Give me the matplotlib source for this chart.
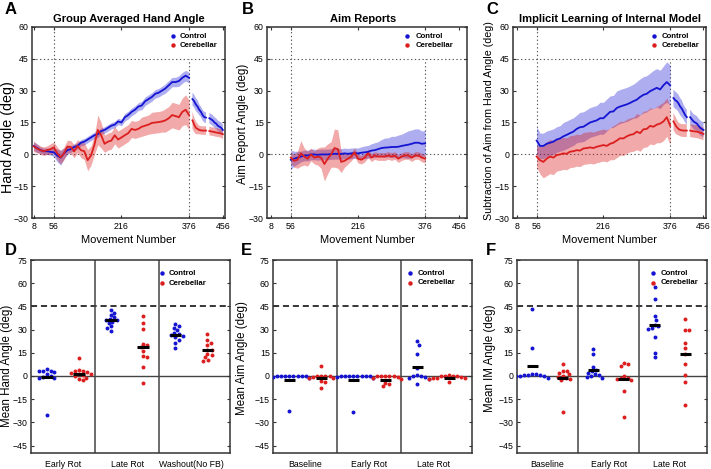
import numpy as np
import matplotlib
matplotlib.use("Agg")
import matplotlib.pyplot as plt

plt.rcParams['font.family'] = ['Liberation Sans', 'DejaVu Sans']

nan = np.nan
# ---------------- top row data ----------------
move_A = np.arange(8, 377, 8)        # baseline + rotation (panel A)
move_BC = np.arange(56, 377, 8)      # rotation (panels B, C)
move_wash = np.arange(384, 457, 4)   # washout (gap = nan)
top_xticks = [8, 56, 216, 376, 456]

hand_ctrl = [4.0, 3.0, 2.0, 1.5, 1.5, 1.2, 1.0, -0.5,
             -1.5, 0.5, 2.0, 2.5, 3.5, 4.0, 5.5, 6.0,
             7.0, 8.0, 9.0, 9.5, 11.0, 11.5, 12.5, 13.5,
             14.0, 15.5, 15.0, 17.5, 18.5, 20.0, 21.0, 22.5,
             23.0, 25.0, 26.0, 27.0, 28.5, 29.0, 30.0, 31.0,
             32.5, 34.0, 34.0, 34.5, 36.0, 37.0, 36.0]
hand_ctrl_sem = [2.0, 2.0, 1.5, 1.5, 1.5, 1.5, 2.0, 3.0,
                 3.5, 2.5, 2.0, 1.5, 1.5, 1.5, 1.5, 1.5,
                 1.5, 1.5, 1.5, 1.5, 1.5, 1.5, 1.5, 1.5,
                 1.5, 1.5, 1.5, 1.8, 1.8, 1.8, 1.8, 1.8,
                 2.0, 2.0, 2.0, 2.0, 2.0, 2.0, 2.0, 2.2,
                 2.2, 2.2, 2.2, 2.5, 2.5, 2.5, 2.5]
hand_cereb = [3.8, 2.8, 2.0, 1.5, 2.0, 2.5, 3.3, 0.5,
              -1.4, 0.5, 3.7, 3.5, 1.4, 4.0, 2.0, 1.5,
              -2.7, -0.5, 4.5, 11.5, 9.0, 5.0, 6.0, 6.5,
              9.0, 7.0, 8.0, 9.0, 10.0, 12.0, 11.5, 12.0,
              13.0, 13.5, 14.0, 14.8, 15.0, 15.2, 15.5, 16.0,
              17.0, 18.5, 18.0, 17.5, 20.0, 21.0, 18.5]
hand_cereb_sem = [2.5, 2.0, 2.0, 2.0, 2.0, 2.5, 2.5, 3.0,
                  3.0, 3.0, 3.0, 3.0, 3.0, 3.0, 3.5, 4.0,
                  5.0, 4.5, 4.5, 7.0, 6.0, 4.0, 4.0, 4.0,
                  4.0, 4.0, 4.0, 4.0, 4.0, 4.0, 4.0, 4.0,
                  4.5, 4.5, 4.5, 5.0, 5.0, 5.0, 5.0, 5.5,
                  5.5, 6.0, 6.0, 6.0, 6.5, 7.0, 7.0]
hand_ctrl_wash = [26, 25, 23.5, 22.5, 21, 20, 18.5, 17.5, 17.3, nan,
                  17, 16.5, 16, 15, 14.5, 13.5, 13, 12.5, 11.5]
hand_ctrl_wash_sem = [3, 3, 3, 3, 2.5, 2.5, 2.5, 2.5, 2.5, nan,
                      2.5, 2.5, 2.5, 2.5, 2.5, 2.5, 2.5, 2.5, 2.5]
hand_cereb_wash = [16, 14, 12.5, 12, 11.5, 11.3, 11.2, 11.2, 11.2, nan,
                   11, 10.8, 10.7, 10.5, 10.3, 10.2, 10, 9.8, 9.5]
hand_cereb_wash_sem = [4, 3.5, 3, 2.5, 2, 2, 2, 2, 2, nan,
                       2, 2, 2, 2, 2, 2, 2, 2, 2.5]

aim_ctrl = [-2.5, -2.0, -1.5, -1.0, -0.5, -0.5, 0.0, 0.0,
            -0.2, 0.0, 0.0, 0.0, 0.2, 0.3, 0.3, 0.2,
            0.5, 0.3, 0.5, 0.6, 0.5, 0.8, 1.0, 1.2,
            1.8, 2.0, 2.5, 3.0, 3.2, 3.3, 3.5, 3.5,
            3.6, 4.0, 4.3, 4.6, 5.0, 5.5, 5.5, 5.0,
            5.2]
aim_ctrl_sem = [4.5, 3.5, 3.0, 2.5, 2.5, 2.5, 2.5, 2.5,
                2.5, 2.5, 2.5, 2.5, 2.5, 2.5, 2.5, 2.5,
                2.5, 2.5, 2.5, 2.5, 2.5, 2.8, 3.0, 3.0,
                3.2, 3.5, 3.5, 4.0, 4.5, 4.5, 5.0, 5.0,
                5.5, 5.5, 6.0, 6.5, 6.5, 6.5, 6.5, 6.0,
                6.0]
aim_cereb = [-1.5, -3.0, -2.5, 0.5, -1.0, -2.0, 0.0, -1.5,
             -1.0, -1.5, -4.5, -2.0, 0.0, 3.0, 2.5, -3.5,
             -3.0, -2.0, -1.0, 1.0, -2.0, -2.5, -1.5, 0.5,
             -1.5, -0.5, -1.0, -1.0, -1.0, -0.5, -1.0, -0.5,
             -2.0, -1.0, -0.5, -0.5, -1.5, -0.5, -0.5, -1.5,
             -2.0]
aim_cereb_sem = [2.5, 3.0, 4.0, 6.0, 4.0, 3.5, 3.0, 3.0,
                 4.0, 5.0, 8.0, 7.0, 6.0, 9.0, 9.0, 5.0,
                 3.0, 2.5, 2.0, 2.0, 2.0, 2.0, 2.0, 2.0,
                 1.8, 1.8, 1.8, 1.8, 1.8, 1.8, 1.8, 1.8,
                 1.8, 1.8, 1.8, 1.8, 1.8, 1.8, 1.8, 2.0,
                 2.0]

im_ctrl = [6.5, 4.0, 4.0, 5.0, 5.5, 6.0, 7.0, 7.5,
           8.5, 9.2, 10.0, 10.7, 12.0, 12.8, 13.0, 14.0,
           15.0, 15.5, 16.0, 17.0, 17.0, 18.5, 20.0, 20.2,
           21.8, 22.5, 23.0, 23.5, 24.2, 25.0, 25.7, 27.0,
           28.0, 28.5, 29.7, 30.5, 31.3, 30.5, 32.5, 34.0,
           32.5]
im_ctrl_sem = [6.5, 6.0, 6.0, 6.0, 6.0, 6.0, 6.0, 6.0,
               6.5, 6.5, 6.5, 6.5, 6.5, 7.0, 7.0, 7.0,
               7.0, 7.0, 7.0, 7.5, 7.5, 7.5, 7.5, 7.5,
               8.0, 8.0, 8.0, 8.0, 8.0, 8.0, 8.5, 8.5,
               8.5, 8.5, 8.5, 9.0, 9.0, 9.0, 9.0, 9.5,
               9.5]
im_cereb = [-1.0, -2.7, -3.5, -2.0, -1.0, -1.5, -0.3, 0.0,
            0.5, 0.3, 1.3, 1.5, 2.0, 1.8, 2.8, 3.0,
            3.3, 3.0, 3.6, 4.0, 4.4, 4.0, 5.0, 5.5,
            6.5, 7.6, 7.5, 8.5, 9.2, 9.5, 10.7, 10.0,
            11.8, 12.0, 13.4, 13.0, 14.0, 14.5, 15.5, 17.5,
            13.5]
im_cereb_sem = [5.0, 6.5, 7.5, 8.0, 8.0, 8.0, 7.5, 7.5,
                7.5, 7.5, 7.5, 7.5, 7.5, 7.5, 7.5, 7.5,
                7.5, 7.5, 7.5, 7.5, 7.5, 7.5, 7.5, 8.0,
                8.0, 8.0, 8.0, 8.0, 8.0, 8.0, 8.5, 8.5,
                8.5, 8.5, 8.5, 8.5, 8.5, 9.0, 9.0, 9.0,
                9.0]
im_ctrl_wash = [26.5, 25.5, 25, 24, 22.5, 21.5, 20, 18.5, 17.5, nan,
                17.5, 16.5, 15.5, 15, 14.5, 13.5, 12.5, 12, 11.5]
im_ctrl_wash_sem = [4, 4, 4, 4, 4, 4, 3.5, 3.5, 3.5, nan,
                    3.5, 3.5, 3.5, 3.5, 3.5, 3.5, 3.5, 3.5, 3.5]
im_cereb_wash = [15.5, 14, 12.8, 12, 11.5, 11.3, 11.2, 11.2, 11.2, nan,
                 11.2, 11, 10.9, 10.8, 10.7, 10.5, 10.2, 10, 9.6]
im_cereb_wash_sem = [4, 4, 3.5, 3, 3, 3, 3, 3, 3, nan,
                     3, 3, 3, 3, 3, 3, 3, 3, 3]

# ---------------- bottom row data ----------------
hand_groups = ['Early Rot', 'Late Rot', 'Washout(No FB)']
hand_ctrl_pts = [[4.5, 3.5, 3, 3, 2.5, 1, 0, -0.5, -1, -1.5, -25],
                 [42.5, 41, 39.5, 38, 37, 36, 36, 35, 34, 32, 31, 29],
                 [33.5, 32.5, 31, 29.5, 28, 27, 26.5, 26, 25, 23.5, 21.5, 18]]
hand_cereb_pts = [[11.5, 4, 3.5, 3, 2.5, 2, 1.5, 1, 0.5, 0, -1, -2, -2.5],
                  [38.5, 34, 30.5, 20.5, 20, 18.5, 16, 13, 12, 5.5, -4.5],
                  [27, 23, 21.5, 20, 17, 16.5, 14, 13.5, 12, 10.5, 9.5]]
hand_ctrl_bar = [-0.8, 36, 26.5]
hand_cereb_bar = [1.5, 18.5, 17]

aim_groups = ['Baseline', 'Early Rot', 'Late Rot']
aim_ctrl_pts = [[0, 0, 0, 0, 0, 0, 0, 0, -0.5, -1.5, -22.5],
                [0, 0, 0, 0, 0, 0, 0, 0, -0.5, -1, -23.5],
                [22.5, 20, 14.5, 5, 0.5, 0, 0, -0.5, -1, -2, -5.5]]
aim_cereb_pts = [[6.5, 0, 0, 0, 0, -0.5, -1, -1.5, -3.5, -4, -8],
                 [0, 0, 0, 0, 0, -0.5, -1, -2, -4.5, -5.5, -6.5],
                 [0.5, 0, 0, 0, 0, -0.5, -1, -1, -1.5, -2, -4]]
aim_ctrl_bar = [-2.5, -2.5, 5.5]
aim_cereb_bar = [-1.5, -2.5, -1]

im_groups = ['Baseline', 'Early Rot', 'Late Rot']
im_ctrl_pts = [[43.5, 18, 1.5, 1, 0.5, 0.5, 0.5, 0, 0, 0, -1],
               [17.5, 14.5, 6, 4, 3, 2, 1, 0.5, 0, -0.5, -1],
               [57.5, 50, 39, 36.5, 33, 32, 31, 30.5, 25.5, 15, 12]]
im_cereb_pts = [[8, 3.5, 3, 2, 1, 0, -0.5, -1, -2, -2.5, -23],
                [8.5, 7.5, 6.5, 0, -1, -1.5, -2, -2.5, -9.5, -26.5],
                [37, 29.5, 29.5, 21.5, 18, 14, 7.5, 0.5, -4, -18.5]]
im_ctrl_bar = [6.5, 4, 33]
im_cereb_bar = [-1, -2, 14]

# ---------------- styling ----------------
BLUE = '#1414d2'
RED = '#dc1e1e'
SPINE = '#333333'
W, H = 711, 469
fig = plt.figure(figsize=(W / 100, H / 100), dpi=100)


def ax_at(l, t, r, b):
    return fig.add_axes([l / W, 1 - b / H, (r - l) / W, (b - t) / H])


def style(ax):
    for s in ax.spines.values():
        s.set_color(SPINE)
        s.set_linewidth(1.1)
    ax.tick_params(direction='in', length=2.5, width=0.8, top=True, right=True,
                   labelsize=6.3, pad=2.5, color=SPINE)


def legend(ax, fx, fy1, fy2, dx=7):
    for fy, c, lab in [(fy1, BLUE, 'Control'), (fy2, RED, 'Cerebellar')]:
        ax.plot([fx], [fy], 'o', color=c, ms=3.2, mew=0, transform=ax.transAxes,
                clip_on=False, zorder=6)
        ax.annotate(lab, (fx, fy), xycoords='axes fraction', xytext=(dx, 0),
                    textcoords='offset pixels', fontsize=5.6, fontweight='bold',
                    va='center', ha='left')


def series(ax, x, m, s, color, alpha):
    m = np.asarray(m, float)
    s = np.asarray(s, float)
    ax.fill_between(x, m - s, m + s, color=color, alpha=alpha, lw=0, zorder=2)


def line(ax, x, m, color):
    ax.plot(x, np.asarray(m, float), color=color, lw=1.3, zorder=3)


def top_panel(box, xlim, parts):
    ax = ax_at(*box)
    ax.set_xlim(*xlim)
    ax.set_ylim(-30, 60)
    ax.set_xticks(top_xticks)
    ax.set_yticks(range(-30, 61, 15))
    style(ax)
    kw = dict(color='#555555', lw=0.8, ls=(0, (1.2, 2.2)), zorder=1)
    ax.axhline(0, **kw)
    ax.axhline(45, **kw)
    ax.axvline(56, **kw)
    ax.plot([376, 376], [-30, 45], **kw)
    for x, m, s, c, a in parts:
        series(ax, x, m, s, c, a)
    for x, m, s, c, a in parts:
        line(ax, x, m, c)
    return ax


axA = top_panel((32.3, 26.7, 225, 218.3), (5, 461), [
    (move_A, hand_ctrl, hand_ctrl_sem, BLUE, 0.35),
    (move_wash, hand_ctrl_wash, hand_ctrl_wash_sem, BLUE, 0.35),
    (move_A, hand_cereb, hand_cereb_sem, RED, 0.38),
    (move_wash, hand_cereb_wash, hand_cereb_wash_sem, RED, 0.38)])
axB = top_panel((267.3, 26.7, 466.7, 218.3), (0, 475), [
    (move_BC, aim_ctrl, aim_ctrl_sem, BLUE, 0.35),
    (move_BC, aim_cereb, aim_cereb_sem, RED, 0.38)])
axC = top_panel((513.3, 26.7, 706, 218.3), (0, 462), [
    (move_BC, im_ctrl, im_ctrl_sem, BLUE, 0.35),
    (move_wash, im_ctrl_wash, im_ctrl_wash_sem, BLUE, 0.35),
    (move_BC, im_cereb, im_cereb_sem, RED, 0.38),
    (move_wash, im_cereb_wash, im_cereb_wash_sem, RED, 0.38)])

legend(axA, 0.729, 0.951, 0.903)
legend(axB, 0.699, 0.951, 0.903, dx=9)
legend(axC, 0.732, 0.951, 0.903)


def swarm_x(ax, xc, vals, d_px=4.1):
    vals = np.asarray(vals, float)
    t = ax.transData
    p0 = t.transform((0, 0))
    sx = t.transform((1, 0))[0] - p0[0]
    sy = t.transform((0, 1))[1] - p0[1]
    ypx = vals * sy
    xs = np.zeros(len(vals))
    placed = []
    for i in np.argsort(-vals):
        y = ypx[i]
        cands = [0.0]
        for (px, py) in placed:
            dy = abs(py - y)
            if dy < d_px:
                dx = np.sqrt(d_px ** 2 - dy ** 2)
                cands += [px + dx, px - dx]
        cands = sorted(cands, key=lambda c: (abs(c), -c))
        for c in cands:
            ok = all((c - px) ** 2 + (y - py) ** 2 >= d_px ** 2 - 1e-6 for px, py in placed)
            if ok:
                break
        placed.append((c, y))
        xs[i] = xc + c / sx
    return xs


def bottom_panel(box, groups, ctrl_pts, cereb_pts, ctrl_bar, cereb_bar):
    ax = ax_at(*box)
    ax.set_xlim(0.5, 3.6)
    ax.set_ylim(-50, 75)
    ax.set_yticks(range(-45, 76, 15))
    ax.set_xticks([1, 2, 3])
    ax.set_xticklabels(groups)
    style(ax)
    ax.tick_params(axis='x', length=0, pad=4.5, top=False)
    ax.axhline(0, color='#444444', lw=1.0, zorder=1)
    ax.axhline(45, color='black', lw=1.1, ls=(0, (4, 2.5)), zorder=1)
    for xd in (1.5, 2.5):
        ax.axvline(xd, color='#444444', lw=1.1, zorder=1)
    for g in range(3):
        for pts, bar, off, c in [(ctrl_pts[g], ctrl_bar[g], -0.25, BLUE),
                                 (cereb_pts[g], cereb_bar[g], 0.25, RED)]:
            xs = swarm_x(ax, g + 1 + off, pts)
            ax.scatter(xs, pts, s=8, color=c, lw=0, zorder=4)
            ax.plot([g + 1 + off - 0.09, g + 1 + off + 0.09], [bar, bar], color='black',
                    lw=2.2, solid_capstyle='butt', zorder=5)
    return ax


axD = bottom_panel((30.7, 260, 230, 453.3), hand_groups, hand_ctrl_pts, hand_cereb_pts,
                   hand_ctrl_bar, hand_cereb_bar)
axE = bottom_panel((273.3, 260, 471.7, 453.3), aim_groups, aim_ctrl_pts, aim_cereb_pts,
                   aim_ctrl_bar, aim_cereb_bar)
axF = bottom_panel((516.7, 260, 706.7, 453.3), im_groups, im_ctrl_pts, im_cereb_pts,
                   im_ctrl_bar, im_cereb_bar)
legend(axD, 0.657, 0.931, 0.880)
legend(axE, 0.688, 0.931, 0.882, dx=8)
legend(axF, 0.716, 0.931, 0.882, dx=8)


def ftext(x, y, s, **kw):
    fig.text(x / W, 1 - y / H, s, **kw)


# titles
ftext(128.7, 19.5, 'Group Averaged Hand Angle', fontsize=8, fontweight='bold', ha='center', va='center')
ftext(363, 19.5, 'Aim Reports', fontsize=8, fontweight='bold', ha='center', va='center')
ftext(610, 19.5, 'Implicit Learning of Internal Model', fontsize=8, fontweight='bold', ha='center', va='center')
# panel letters
for x, y, s in [(10.8, 10, 'A'), (247.5, 10, 'B'), (492.5, 10, 'C'),
                (10.8, 250, 'D'), (246.7, 250, 'E'), (490.7, 250, 'F')]:
    ftext(x, y, s, fontsize=12, fontweight='bold', ha='center', va='center')
# x labels
for xc in (128.7, 367, 609.7):
    ftext(xc, 239.5, 'Movement Number', fontsize=8, ha='center', va='center')
# y labels
for x, y, s, fs in [(8, 137, 'Hand Angle (deg)', 10.3),
                    (243, 124, 'Aim Report Angle (deg)', 8.3),
                    (489.5, 121, 'Subtraction of Aim from Hand Angle (deg)', 7.7),
                    (7, 366, 'Mean Hand Angle (deg)', 8.3),
                    (242, 358, 'Mean Aim Angle (deg)', 8.3),
                    (490, 358, 'Mean IM Angle (deg)', 8.3)]:
    ftext(x, y, s, fontsize=fs, rotation=90, ha='center', va='center')

fig.savefig('out.png', dpi=100)
